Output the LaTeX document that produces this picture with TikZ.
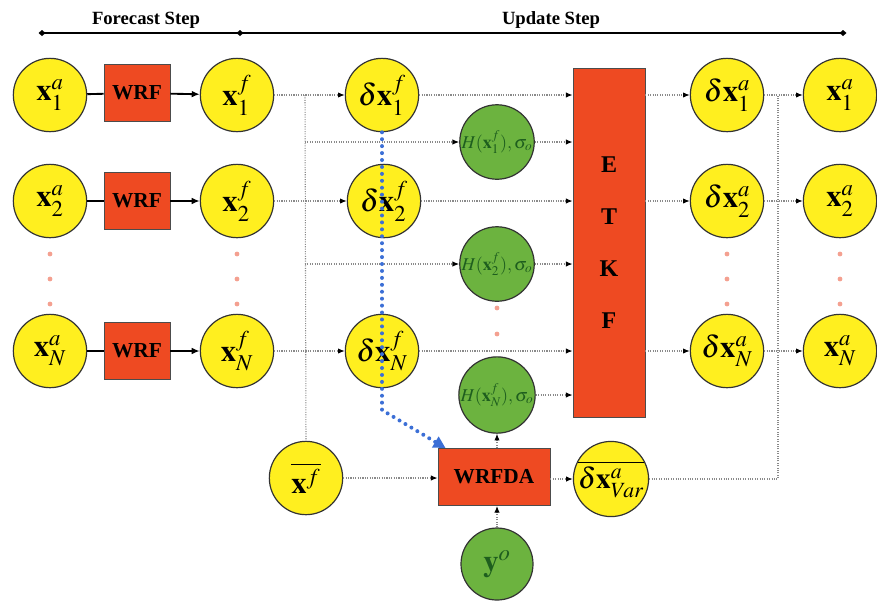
\documentclass[tikz,border=0pt]{standalone}
\usepackage{mathptmx}
\usepackage{fontspec}
\setmainfont{Liberation Serif}
\usetikzlibrary{arrows.meta,calc}
\definecolor{cyel}{HTML}{FFEF1F}
\definecolor{cred}{HTML}{EE4A22}
\definecolor{cgrn}{HTML}{6CB33F}
\definecolor{cgtxt}{HTML}{1E5E1E}
\definecolor{cdot}{HTML}{F4A090}
\definecolor{cblue}{HTML}{3C6FD6}
\definecolor{cline}{HTML}{8A8A8A}
\begin{document}
\begin{tikzpicture}[x=0.75pt,y=-0.75pt,
  yc/.style={circle,draw=black!80,line width=0.9pt,fill=cyel,minimum size=55pt,inner sep=0pt,font=\fontsize{23}{25}\selectfont},
  gc/.style={yc,fill=cgrn,text=cgtxt,font=\fontsize{13.5}{15}\selectfont},
  rbox/.style={draw=black!70,line width=0.6pt,fill=cred,inner sep=0pt,font=\bfseries\fontsize{16}{18}\selectfont},
  solidline/.style={line width=1.4pt,black},
  solidarrow/.style={solidline,-{Latex[length=6pt,width=5pt]}},
  dotline/.style={cline,line width=0.8pt,densely dotted},
  dotarrow/.style={dotline,-{Latex[length=5pt,width=4pt,color=black]}},
  bluearrow/.style={cblue,line width=3pt,line cap=round,dash pattern=on 0pt off 5.2pt,-{Triangle[length=9pt,width=9pt,color=cblue,line cap=butt]}},
  hdr/.style={font=\bfseries\fontsize{14}{16}\selectfont},
  pdot/.style={cdot}
]
\useasboundingbox (0,0) rectangle (877,601);

% header
\node[hdr] (fs) at (146,20) {Forecast Step};
\node[hdr] (us) at (551,20) {Update Step};
\coordinate (hl) at (42,33);
\coordinate (hm) at (240,33);
\coordinate (hr) at (843,33);
\draw[line width=1.3pt] (hl) -- (hr);
\foreach \p in {hl,hm,hr}{
  \fill (\p) +(-3.5,0) -- +(0,-3) -- +(3.5,0) -- +(0,3) -- cycle;
}

% column 1: analysis ensemble
\node[yc] (xa1) at (50,95) {$\mathbf{x}^{a}_{1}$};
\node[yc] (xa2) at (50,201) {$\mathbf{x}^{a}_{2}$};
\node[yc] (xaN) at (50,351) {$\mathbf{x}^{a}_{N}$};

% WRF boxes
\node[rbox,minimum width=49.5pt,minimum height=42.75pt] (wrf1) at (137,93) {WRF};
\node[rbox,minimum width=49.5pt,minimum height=42.75pt] (wrf2) at (137,201) {WRF};
\node[rbox,minimum width=49.5pt,minimum height=42.75pt] (wrfN) at (137,351) {WRF};

% forecasts
\node[yc] (xf1) at (237,95) {$\mathbf{x}^{f}_{1}$};
\node[yc] (xf2) at (237,201) {$\mathbf{x}^{f}_{2}$};
\node[yc] (xfN) at (237,351) {$\mathbf{x}^{f}_{N}$};

% perturbations
\node[yc] (dxf1) at (382,95) {$\delta\mathbf{x}^{f}_{1}$};
\node[yc] (dxf2) at (384,201) {$\delta\mathbf{x}^{f}_{2}$};
\node[yc] (dxfN) at (382,351) {$\delta\mathbf{x}^{f}_{N}$};

% observation operators
\node[gc] (h1) at (497,142) {$H(\mathbf{x}^{f}_{1}),\sigma_{o}$};
\node[gc] (h2) at (497,264) {$H(\mathbf{x}^{f}_{2}),\sigma_{o}$};
\node[gc] (hN) at (497,395) {$H(\mathbf{x}^{f}_{N}),\sigma_{o}$};

% ETKF
\node[rbox,minimum width=54pt,minimum height=262pt,align=center,font=\bfseries\fontsize{18}{39}\selectfont] (etkf) at (609,243) {E\\T\\K\\F};

% analysis perturbations and analyses
\node[yc] (dxa1) at (727,95) {$\delta\mathbf{x}^{a}_{1}$};
\node[yc] (dxa2) at (727,201) {$\delta\mathbf{x}^{a}_{2}$};
\node[yc] (dxaN) at (727,351) {$\delta\mathbf{x}^{a}_{N}$};
\node[yc] (xo1) at (840,95) {$\mathbf{x}^{a}_{1}$};
\node[yc] (xo2) at (840,201) {$\mathbf{x}^{a}_{2}$};
\node[yc] (xoN) at (840,351) {$\mathbf{x}^{a}_{N}$};

% bottom row
\node[yc] (xbar) at (306,478) {$\overline{\mathbf{x}^{f}}$};
\node[rbox,minimum width=84pt,minimum height=42.75pt] (wrfda) at (494,477) {WRFDA};
\node[yc,minimum size=54pt,font=\fontsize{22}{24}\selectfont] (dxvar) at (611,479) {$\overline{\delta\mathbf{x}^{a}_{Var}}$};
\node[gc,minimum size=54pt,font=\fontsize{23}{25}\selectfont] (yo) at (497,564) {$\mathbf{y}^{o}$};

% dots
\foreach \x in {50,237,727,840}{
  \foreach \y in {254,279,304}{
    \fill[pdot] (\x,\y) circle (1.8pt);
  }
}
\foreach \y in {308,334}{\fill[pdot] (497,\y) circle (1.8pt);}

% forecast step connectors
\foreach \i in {1,2,N}{
  \draw[solidline] (xa\i) -- (wrf\i);
  \draw[solidarrow] (wrf\i) -- (xf\i);
  \draw[dotarrow] (xf\i) -- (dxf\i);
  \draw[dotarrow] (dxf\i.east) -- (dxf\i.east -| etkf.west);
  \draw[dotarrow] (etkf.east |- dxa\i.west) -- (dxa\i.west);
  \draw[dotarrow] (dxa\i) -- (xo\i);
}
\foreach \i in {1,2,N}{
  \draw[dotarrow] (h\i.east) -- (h\i.east -| etkf.west);
}

% mean and H branches
\coordinate (j1) at (305,95);
\draw[dotline] (j1) -- (xbar.north);
\draw[dotarrow] (j1 |- h1.west) -- (h1.west);
\draw[dotarrow] (j1 |- h2.west) -- (h2.west);

% WRFDA connectors
\draw[dotarrow] (xbar.east) -- (wrfda.west |- xbar.east);
\draw[dotarrow] (wrfda.east |- dxvar.west) -- (dxvar.west);
\draw[dotarrow] (yo.north) -- (yo.north |- wrfda.south);
\draw[dotarrow] (wrfda.north -| hN.south) -- (hN.south);

% recentering line
\coordinate (j2) at (778,95);
\draw[dotline] (dxvar.east) -| (j2);

% blue dotted arrow
\coordinate (bb) at (382,410);
\draw[bluearrow] (dxf1.south) -- (bb) -- ($(wrfda.north west)+(8,0)$);
\end{tikzpicture}
\end{document}
